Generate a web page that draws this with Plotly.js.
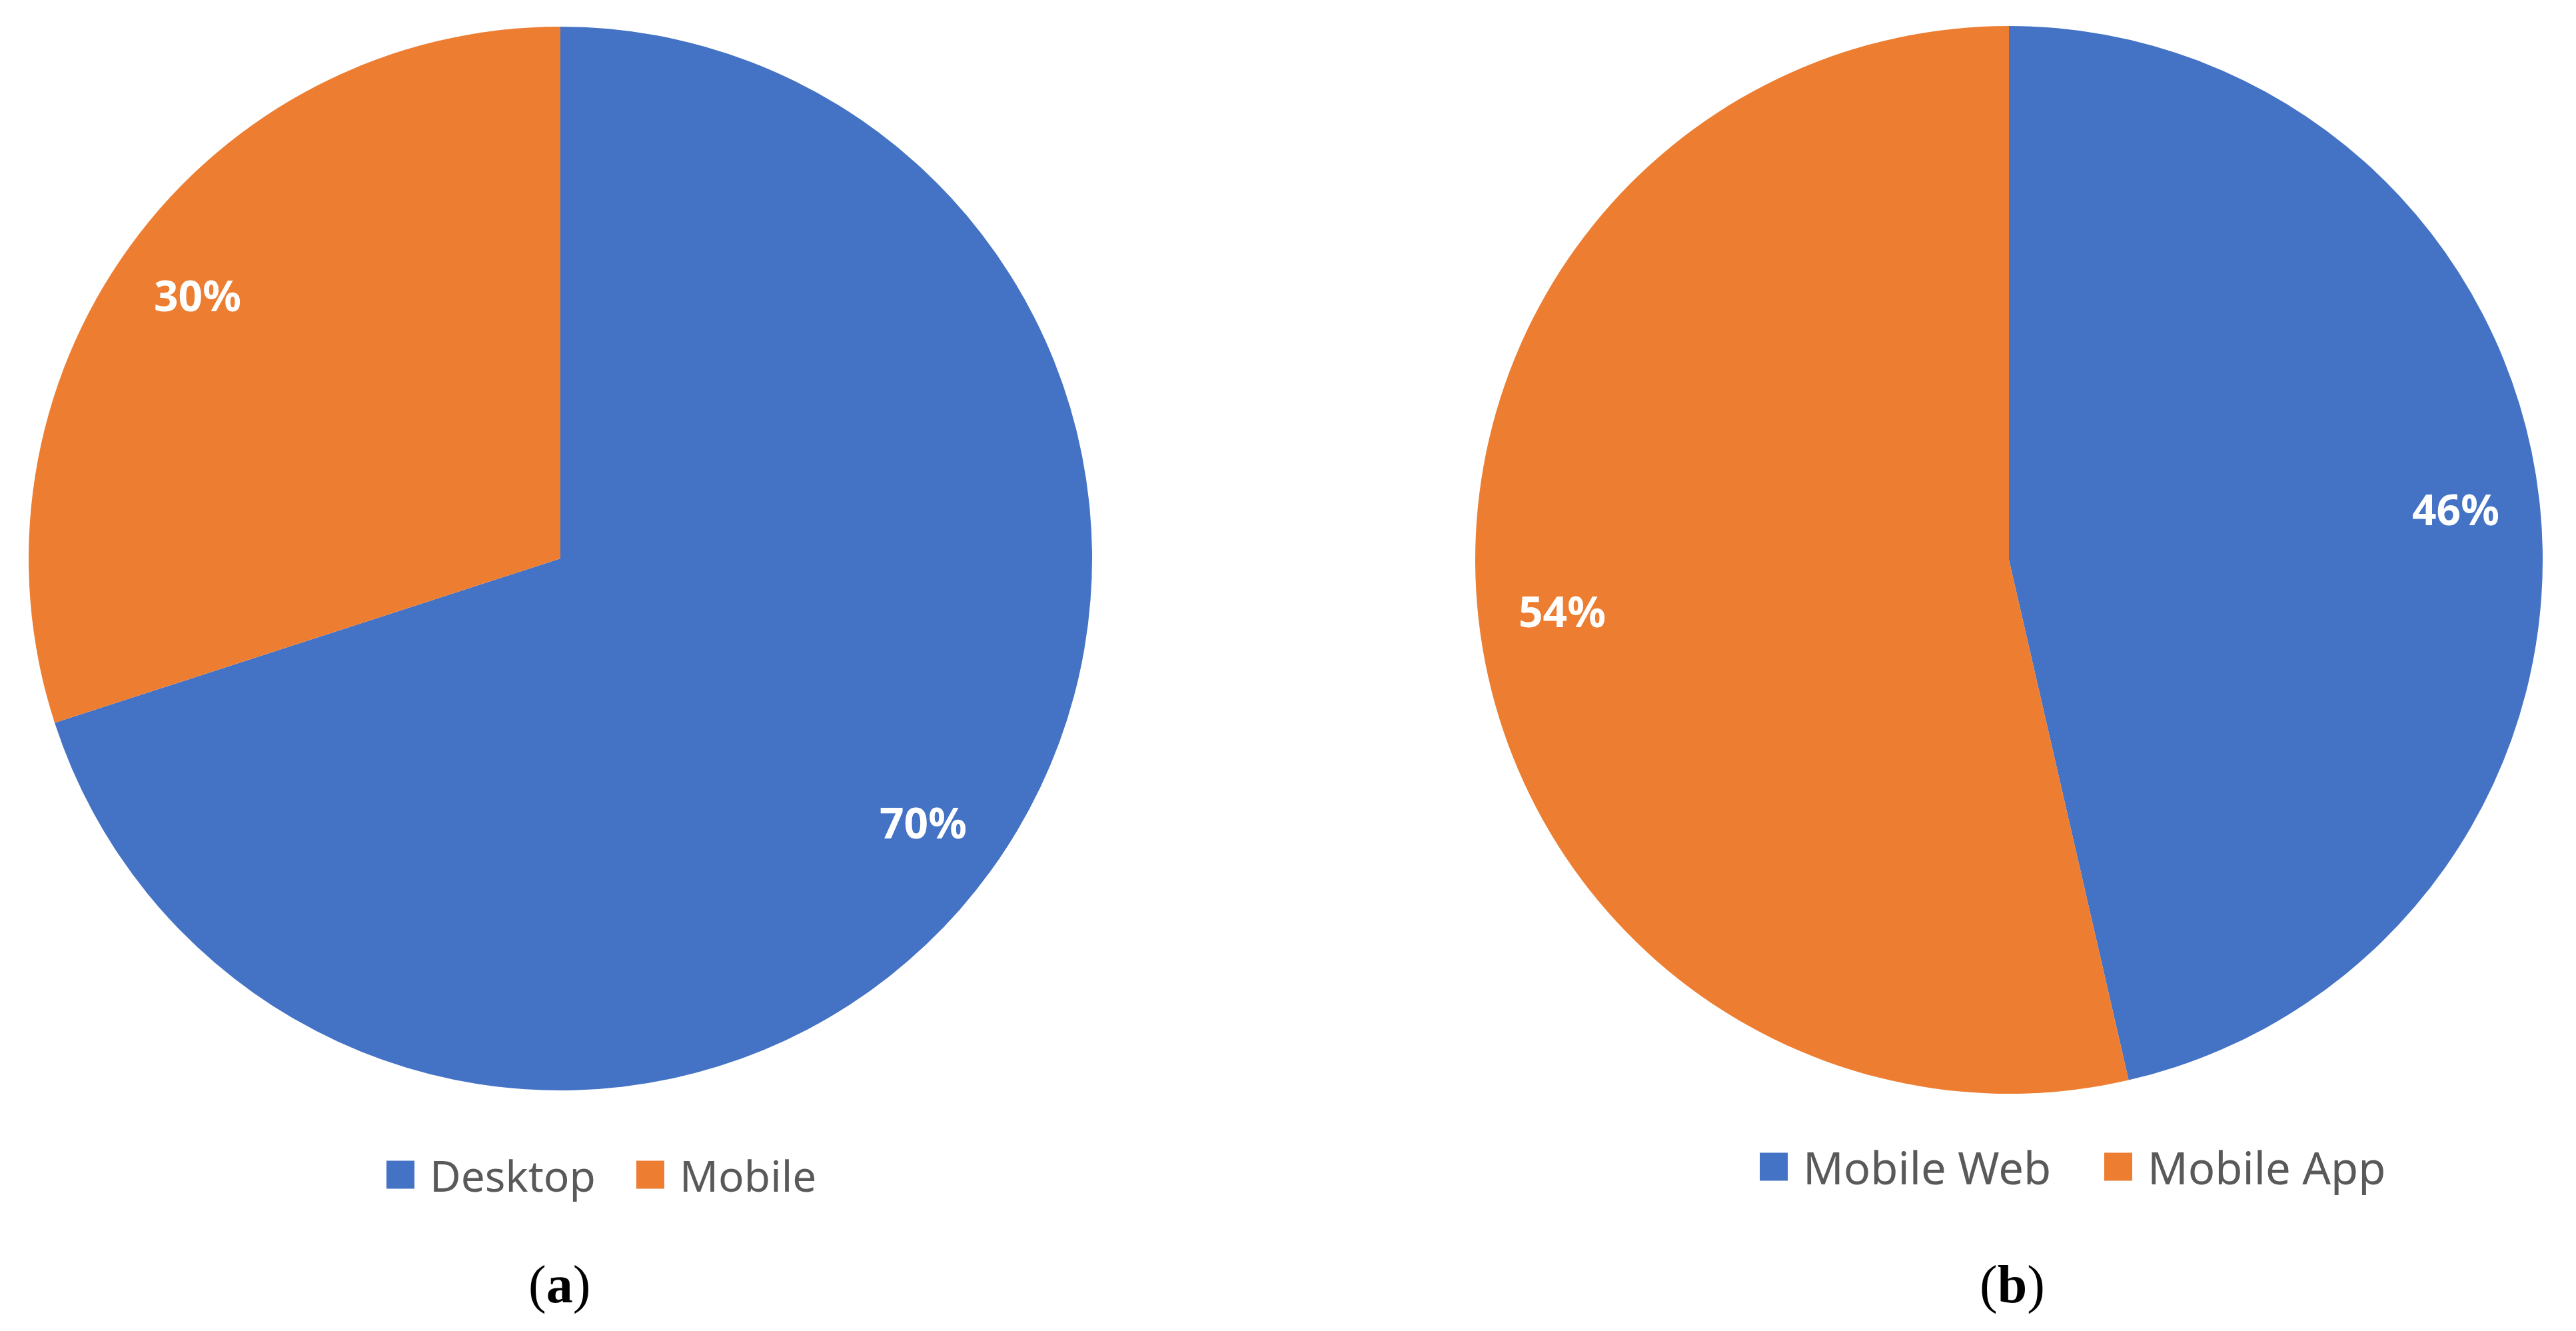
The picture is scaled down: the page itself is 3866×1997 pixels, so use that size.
<!DOCTYPE html>
<html>
<head>
<meta charset="utf-8">
<script src="https://cdn.plot.ly/plotly-3.0.1.min.js"></script>
<style>
  html, body { margin: 0; padding: 0; background: #ffffff; }
  #chart { width: 3866px; height: 1997px; }
  #chart .legendpoints path { d: path("M21,21H-21V-21H21Z") !important; }
</style>
</head>
<body>
<div id="chart"></div>
<script>
// ---- data ----
const labelsA = ["Desktop", "Mobile"];
const valuesA = [70, 30];
const labelsB = ["Mobile Web", "Mobile App"];
const valuesB = [46.4, 53.6];
const panelLabels = ["a", "b"];
const colors = ["#4472C4", "#ED7D31"];

const W = 3866, H = 1997;
const px = v => v / W;
const py = v => 1 - v / H;

const labelFont = { family: "Noto Sans, Open Sans, sans-serif", size: 64, color: "#ffffff", weight: "bold" };
const legendFontA = { family: "Noto Sans, Open Sans, sans-serif", size: 64, color: "#595959" };
const legendFontB = { family: "Noto Sans, Open Sans, sans-serif", size: 67, color: "#595959" };

const domainA = { x: [px(43), px(1639)], y: [py(1636), py(40)] };
const domainB = { x: [px(2214), px(3816)], y: [py(1641), py(39)] };

function pieTrace(labels, values, domain, legendId) {
  return {
    type: "pie",
    labels: labels,
    values: values,
    marker: { colors: colors },
    sort: false,
    direction: "clockwise",
    rotation: 0,
    textinfo: "none",
    hoverinfo: "label+percent",
    domain: domain,
    legend: legendId
  };
}

// data labels placed along each slice's mid-angle, derived from the values
function sliceLabels(values, domain) {
  const total = values.reduce((a, b) => a + b, 0);
  const x0 = domain.x[0] * W, x1 = domain.x[1] * W;
  const y0 = domain.y[0] * H, y1 = domain.y[1] * H;
  const cx = (x0 + x1) / 2, cy = (y0 + y1) / 2;
  const R = Math.min(x1 - x0, y1 - y0) / 2;
  const f = 0.843;
  let cum = 0;
  return values.map(function (v) {
    const mid = (cum + v / 2) / total * 2 * Math.PI;
    cum += v;
    return {
      text: Math.round(v / total * 100) + "%",
      xref: "paper", yref: "paper",
      x: (cx + f * R * Math.sin(mid)) / W,
      y: (cy + f * R * Math.cos(mid)) / H,
      xanchor: "center", yanchor: "middle",
      showarrow: false,
      font: labelFont
    };
  });
}

const traceA = pieTrace(labelsA, valuesA, domainA, "legend");
const traceB = pieTrace(labelsB, valuesB, domainB, "legend2");

const panelFont = { family: "Liberation Serif, Times New Roman, serif", size: 80, color: "#000000" };

const layout = {
  width: W,
  height: H,
  margin: { l: 0, r: 0, t: 0, b: 0, pad: 0 },
  paper_bgcolor: "#ffffff",
  plot_bgcolor: "#ffffff",
  showlegend: true,
  legend: {
    orientation: "h",
    x: px(575), xanchor: "left",
    y: py(1763), yanchor: "middle",
    font: legendFontA,
    bgcolor: "rgba(0,0,0,0)",
    itemwidth: 60,
    entrywidth: 300,
    entrywidthmode: "pixels",
    traceorder: "normal"
  },
  legend2: {
    orientation: "h",
    x: px(2636), xanchor: "left",
    y: py(1751), yanchor: "middle",
    font: legendFontB,
    bgcolor: "rgba(0,0,0,0)",
    itemwidth: 60,
    entrywidth: 442,
    entrywidthmode: "pixels",
    traceorder: "normal"
  },
  annotations: sliceLabels(valuesA, domainA).concat(sliceLabels(valuesB, domainB)).concat([
    {
      text: "(<b>" + panelLabels[0] + "</b>)",
      xref: "paper", yref: "paper",
      x: px(839), y: py(1927), xanchor: "center", yanchor: "middle",
      showarrow: false, font: panelFont
    },
    {
      text: "(<b>" + panelLabels[1] + "</b>)",
      xref: "paper", yref: "paper",
      x: px(3020), y: py(1927), xanchor: "center", yanchor: "middle",
      showarrow: false, font: panelFont
    }
  ])
};

function enlargeLegendSquares() {
  const gd = document.getElementById("chart");
  gd.querySelectorAll("g.traces").forEach(function (tr) {
    const txt = tr.querySelector("text.legendtext");
    const tx = txt ? (parseFloat(txt.getAttribute("x")) || 70) : 70;
    tr.querySelectorAll(".legendpoints path").forEach(function (path) {
      path.setAttribute("d", "M21,21H-21V-21H21Z");
      path.setAttribute("transform", "translate(" + (tx - 23 - 21) + ",0)");
    });
  });
}

Plotly.newPlot("chart", [traceA, traceB], layout, { displayModeBar: false, staticPlot: true }).then(function (gd) {
  enlargeLegendSquares();
  if (gd.on) gd.on("plotly_afterplot", enlargeLegendSquares);
  setTimeout(enlargeLegendSquares, 0);
  setTimeout(enlargeLegendSquares, 100);
});
</script>
</body>
</html>
